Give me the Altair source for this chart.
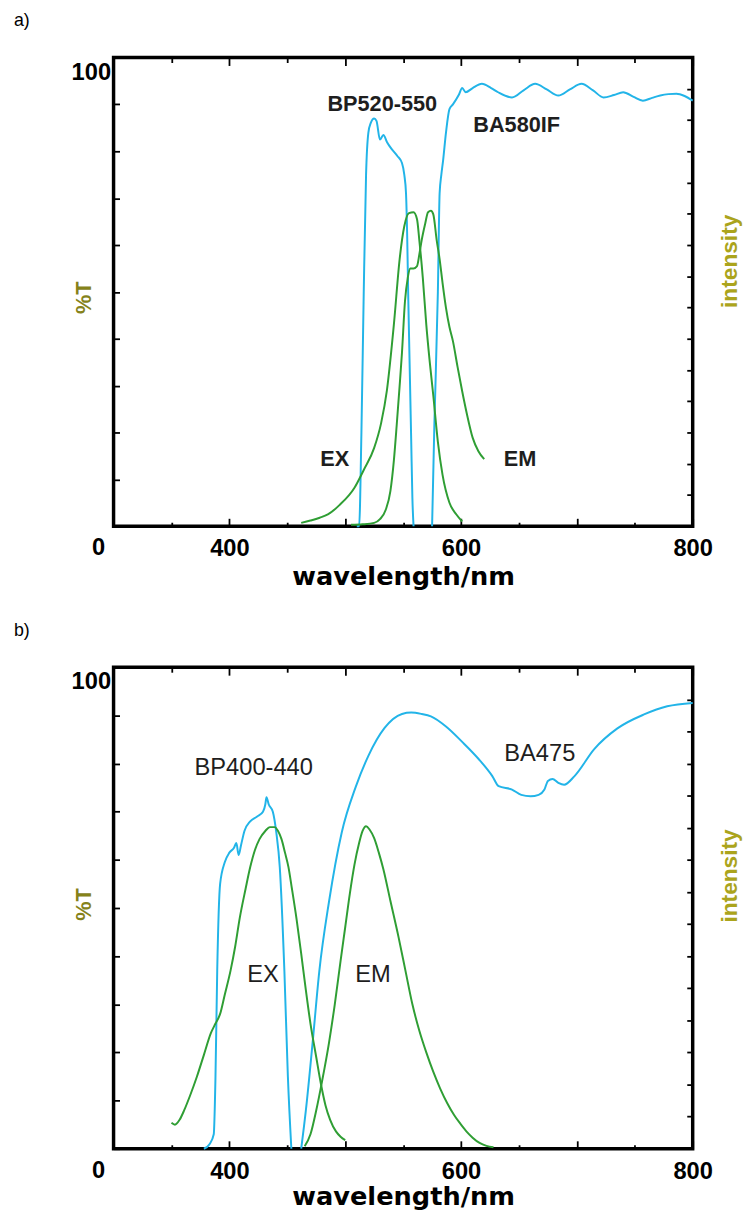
import altair as alt
import pandas as pd

CYAN = "#22b4e8"
GREEN = "#2f9e34"
OLIVE_T = "#85821a"
OLIVE_I = "#aba41c"
FONT = "Liberation Sans"

# ---------------- panel a ----------------
a_bp_nm = [510, 512, 514, 516, 518, 520, 522, 525, 527, 530, 533, 536, 540, 545, 549, 551, 552.5, 553.5, 554.5, 556, 557, 558, 559]
a_bp_t = [0, 0, 20, 50, 75, 84, 86, 87, 86.5, 82.5, 83.5, 82, 80.5, 79, 77.5, 75, 71, 62, 48, 30, 18, 6, 0]

a_ba_nm = [575, 577, 580, 581.5, 583, 584.5, 587, 590, 593, 598, 601, 604, 610, 618, 626, 632, 644, 654, 664, 674, 684, 694,
           704, 714, 723, 732, 740, 749, 757, 765, 772, 779, 786, 793, 800]
a_ba_t = [0, 22, 50, 71, 75, 78, 84, 89, 90, 92, 93.5, 92.6, 93.5, 94.4, 93.5, 92.6, 91.5, 93, 94.4, 93.2, 91.9, 93.2,
          94.4, 93, 91.5, 92, 92.6, 91.6, 90.8, 91.4, 91.9, 92.2, 92.3, 91.8, 90.8]

a_ex_nm = [462, 470, 478, 485, 495, 508, 516, 525, 531, 536, 542, 547, 551, 555, 559, 562, 564, 567, 570, 573, 576, 580, 584, 590, 596, 601]
a_ex_i = [0.7, 1.2, 1.8, 2.5, 4.5, 8.2, 12, 16.7, 22, 29, 43, 57, 64, 66.8, 67, 65.5, 61, 53, 43, 35, 28, 18, 11, 5, 2.5, 1]

a_em_nm = [505, 515, 525, 530, 535, 539, 542, 544.5, 547, 549, 551.6, 554, 556, 559, 562, 564, 566, 569, 571.5, 574, 576, 579,
           581.5, 584, 587, 590, 593, 597, 601, 605, 610, 615, 620]
a_em_i = [0.3, 0.4, 0.7, 1.5, 3.5, 7.5, 14, 21.7, 30, 37, 48, 53, 55, 55, 55.5, 58, 61, 64.5, 67, 67.3, 66.6, 61,
          57, 52, 46.6, 42.5, 39.5, 34, 28.8, 24, 18.9, 16, 14.3]

a_filter_text = ["BP520-550", "BA580IF"]
a_filter_nm = [532, 648]
a_filter_v = [90, 85.5]
a_spec_text = ["EX", "EM"]
a_spec_nm = [491, 651]
a_spec_v = [14.3, 14.3]

# ---------------- panel b ----------------
b_bp_nm = [378, 383, 386.5, 388, 389.5, 392, 396, 400, 404, 406, 408, 410, 413, 418, 424, 429, 431, 432, 434, 437.5, 440.5,
           443.5, 447.5, 450.5, 453.5]
b_bp_t = [0, 1, 3, 15, 37, 55, 59.5, 61.5, 62.5, 63.5, 61, 63, 66, 68, 69, 70, 71.5, 73, 71.5, 70, 65.7,
          58.5, 36.8, 15, 0]

b_ba_nm = [462, 466, 472, 477.6, 486, 497, 509, 520, 534, 549, 557, 566, 574, 587, 601, 615, 627, 632.5, 644, 652, 660,
           667, 672, 675, 679, 684, 689, 698, 715, 735, 758, 778, 800]
b_ba_t = [0, 7.9, 22.4, 36.8, 51.3, 65.7, 75.1, 81.6, 87.4, 90.3, 90.6, 90.3, 89.8, 87.7, 84.5, 81, 77.4, 75.3, 74.6, 73.5, 73.2,
          73.5, 74.6, 76.4, 76.8, 76, 75.6, 77.4, 83, 87.3, 90.2, 91.9, 92.6]

b_ex_nm = [350, 353, 357, 361, 366, 372, 378, 384, 388, 392, 396, 401, 405, 409, 414, 418, 422, 426, 431, 435, 439, 442,
           445, 448, 451, 454, 458, 462, 466, 470, 475, 479, 483, 487, 492, 496, 500]
b_ex_i = [5.4, 5, 6, 8, 11, 15, 19.5, 24, 26, 28, 32, 37, 42, 48, 54, 58.5, 62, 64.3, 66, 66.8, 66.8, 66,
          64.3, 61.5, 58.5, 54, 47.7, 40.5, 33, 26, 19, 13.5, 9, 6, 3.6, 2.5, 1.8]

b_em_nm = [465, 470, 475, 480, 486, 491, 496, 500, 504, 508, 512, 515, 518, 521, 525, 529, 533, 539, 546, 552, 558, 564,
           570, 576, 582, 588, 594, 600, 605, 610, 616, 622, 628]
b_em_i = [0.5, 3, 8, 14, 22, 30, 39, 46, 53, 59, 63.5, 66, 67, 66.3, 64.5, 61.5, 58, 51.5, 44, 37, 30, 24.5,
          20, 16, 12.5, 9.5, 7, 5, 3.5, 2.3, 1.2, 0.6, 0.3]

b_filter_text = ["BP400-440", "BA475"]
b_filter_nm = [421, 668]
b_filter_v = [79, 82]
b_spec_text = ["EX", "EM"]
b_spec_nm = [429, 524]
b_spec_v = [36, 36]

x_major = [400, 500, 600, 700, 800]
x_minor = [350, 450, 550, 650, 750]
y_ticks_left = [0, 10, 20, 30, 40, 50, 60, 70, 80, 90, 100]
y_ticks_right = [6.667, 13.333, 20, 26.667, 33.333, 40, 46.667, 53.333, 60, 66.667, 73.333, 80, 86.667, 93.333]
x_labels_shown = [400, 600, 800]
y_labels_shown = [0, 100]


def frame(pairs):
    rows = []
    for name, xs, ys in pairs:
        for x, y in zip(xs, ys):
            rows.append({"nm": x, "v": y, "curve": name})
    return pd.DataFrame(rows)


def ticks_axis(orient, values, size, **kw):
    return alt.Axis(orient=orient, values=values, tickSize=size, offset=-size, domain=False, grid=False,
                    tickColor="black", tickWidth=1.8, **kw)


def panel(cyan_df, green_df, filt_df, spec_df, height, tag, pct_y, int_y, lab_size, lab_weight, title_pad):
    xs = alt.Scale(domain=[300, 800], nice=False, zero=False)
    ys = alt.Scale(domain=[0, 100], nice=False, zero=True)
    x_expr = " || ".join(f"datum.value == {v}" for v in x_labels_shown)
    y_expr = " || ".join(f"datum.value == {v}" for v in y_labels_shown)

    ax_bottom_major = ticks_axis(
        "bottom", x_major, 8, labelExpr=f"({x_expr}) ? datum.label : ''",
        labelFont=FONT, labelFontSize=24, labelFontWeight="bold", labelColor="black",
        labelPadding=11, labelFlush=False, labelOverlap=False,
        title="wavelength/nm", titleFont="DejaVu Sans", titleFontSize=26, titleFontWeight="bold",
        titleColor="black", titlePadding=title_pad,
    )
    ax_bottom_minor = ticks_axis("bottom", x_minor, 4, labels=False, title=None)
    ax_top_major = ticks_axis("top", x_major, 8, labels=False, title=None)
    ax_top_minor = ticks_axis("top", x_minor, 5, labels=False, title=None)
    ax_left = ticks_axis(
        "left", y_ticks_left, 6, labelExpr=f"({y_expr}) ? datum.label : ''",
        labelFont=FONT, labelFontSize=24, labelFontWeight="bold", labelColor="black",
        labelBaseline="middle", labelOverlap=False, labelFlush=False,
        labelOffset={"condition": {"test": "datum.value == 0", "value": 22}, "value": 15},
        labelPadding={"condition": {"test": "datum.value == 0", "value": 9}, "value": 3},
        title="%T", titleFont=FONT, titleFontSize=22, titleFontWeight="bold", titleColor=OLIVE_T,
        titleAngle=270, titleX=-36, titleY=pct_y, titleAlign="center", titleBaseline="middle",
    )
    ax_right = ticks_axis(
        "right", y_ticks_right, 6, labels=False,
        title="intensity", titleFont=FONT, titleFontSize=23, titleFontWeight="bold", titleColor=OLIVE_I,
        titleAngle=270, titleX=43, titleY=int_y, titleAlign="center", titleBaseline="middle",
    )

    cyan = alt.Chart(cyan_df).mark_line(strokeWidth=2, interpolate="monotone", color=CYAN).encode(
        x=alt.X("nm:Q", scale=xs, axis=ax_bottom_major),
        y=alt.Y("v:Q", scale=ys, axis=ax_left),
        detail="curve:N",
    )
    green = alt.Chart(green_df).mark_line(strokeWidth=2, interpolate="monotone", color=GREEN).encode(
        x=alt.X("nm:Q", scale=xs, axis=ax_bottom_minor),
        y=alt.Y("v:Q", scale=ys, axis=None),
        detail="curve:N",
    )
    filt = alt.Chart(filt_df).mark_text(font=FONT, fontSize=lab_size, fontWeight=lab_weight, color="#1e1e1e",
                                         align="center", baseline="middle").encode(
        x=alt.X("nm:Q", scale=xs, axis=ax_top_major),
        y=alt.Y("v:Q", scale=ys, axis=ax_right),
        text="label:N",
    )
    spec = alt.Chart(spec_df).mark_text(font=FONT, fontSize=lab_size, fontWeight=lab_weight, color="#1e1e1e",
                                         align="center", baseline="middle").encode(
        x=alt.X("nm:Q", scale=xs, axis=ax_top_minor),
        y=alt.Y("v:Q", scale=ys, axis=None),
        text="label:N",
    )
    return (
        alt.layer(cyan, green, filt, spec)
        .resolve_scale(x="independent", y="independent")
        .resolve_axis(x="independent", y="independent")
        .properties(
            width=587, height=height,
            title=alt.TitleParams(tag, anchor="start", frame="group", dx=-101, offset=27,
                                  fontSize=18, fontWeight="normal", font=FONT, color="black"),
        )
    )


cyan_a = frame([("bp", a_bp_nm, a_bp_t), ("ba", a_ba_nm, a_ba_t)])
green_a = frame([("ex", a_ex_nm, a_ex_i), ("em", a_em_nm, a_em_i)])
filt_a = pd.DataFrame({"label": a_filter_text, "nm": a_filter_nm, "v": a_filter_v})
spec_a = pd.DataFrame({"label": a_spec_text, "nm": a_spec_nm, "v": a_spec_v})

cyan_b = frame([("bp", b_bp_nm, b_bp_t), ("ba", b_ba_nm, b_ba_t)])
green_b = frame([("ex", b_ex_nm, b_ex_i), ("em", b_em_nm, b_em_i)])
filt_b = pd.DataFrame({"label": b_filter_text, "nm": b_filter_nm, "v": b_filter_v})
spec_b = pd.DataFrame({"label": b_spec_text, "nm": b_spec_nm, "v": b_spec_v})

pa = panel(cyan_a, green_a, filt_a, spec_a, 475, "a)", 243, 206, 22, "bold", 3)
pb = panel(cyan_b, green_b, filt_b, spec_b, 488, "b)", 240, 211, 24, "normal", 1)

chart = (
    alt.vconcat(pa, pb, spacing=29)
    .properties(padding={"left": 4, "top": -6, "right": 0, "bottom": 0}, background="white")
    .configure_view(stroke="black", strokeWidth=3.5)
)

chart.save("out.html", embed_options={"renderer": "svg", "actions": False})
